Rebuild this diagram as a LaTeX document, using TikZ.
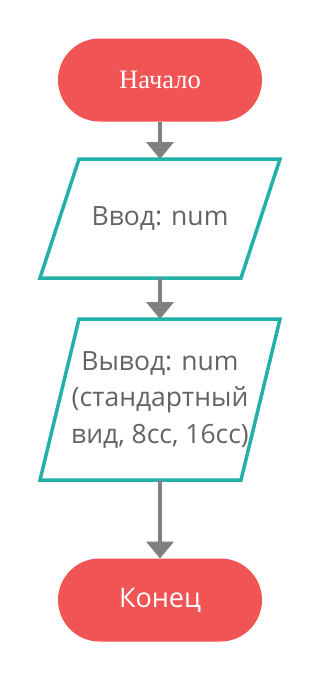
\documentclass[tikz,border=0pt]{standalone}
\usepackage{fontspec}
\setmainfont{Open Sans}
\newfontfamily\termserif{Liberation Serif}
\usetikzlibrary{arrows.meta,calc}

\definecolor{termred}{RGB}{240,84,84}
\definecolor{ioteal}{RGB}{34,176,168}
\definecolor{flowgray}{RGB}{128,128,128}
\definecolor{textgray}{RGB}{100,100,100}

\tikzset{
  terminal/.style={draw=none, fill=termred, rounded corners=41.5pt,
    minimum width=204pt, minimum height=83pt, text=white, inner sep=0pt,
    outer sep=0pt},
  % text area of an input/output block; the slanted outline is drawn around it
  iobox/.style={rectangle, draw=none, outer sep=0pt,
    minimum width=201pt, text=textgray, align=center, inner sep=0pt,
    font=\fontsize{26.5}{36.5}\selectfont},
  iooutline/.style={draw=ioteal, line width=3.5pt, line join=miter},
  flow/.style={draw=flowgray, line width=4pt,
    -{Triangle[width=27pt,length=17pt]}}
}
\newcommand{\slanted}[1]{%
  \draw[iooutline] ($(#1.north west)+(19.5,0)$) -- ($(#1.north east)+(19.5,0)$)
    -- ($(#1.south east)+(-19.5,0)$) -- ($(#1.south west)+(-19.5,0)$) -- cycle;}

\begin{document}
\begin{tikzpicture}[x=1pt,y=-1pt]
  \useasboundingbox[fill=white] (0,0) rectangle (320,680);

  \node[terminal, font=\termserif\fontsize{26.5}{30}\selectfont] (start) at (160,80) {Начало};
  \node[iobox, minimum height=119pt] (in) at (160,218.5) {\raisebox{-3pt}{Ввод: num}};
  \node[iobox, minimum height=161pt] (out) at (160,399.5)
    {\raisebox{-4pt}{\begin{tabular}{@{}c@{}}Вывод: num\\(стандартный\\вид, 8сс, 16сс)\end{tabular}}};
  \node[terminal, font=\fontsize{27}{30}\selectfont] (stop) at (160,600) {Конец};

  \slanted{in}
  \slanted{out}

  \draw[flow] (start.south) -- (in.north);
  \draw[flow] (in.south) -- (out.north);
  \draw[flow] (out.south) -- (stop.north);
\end{tikzpicture}
\end{document}
